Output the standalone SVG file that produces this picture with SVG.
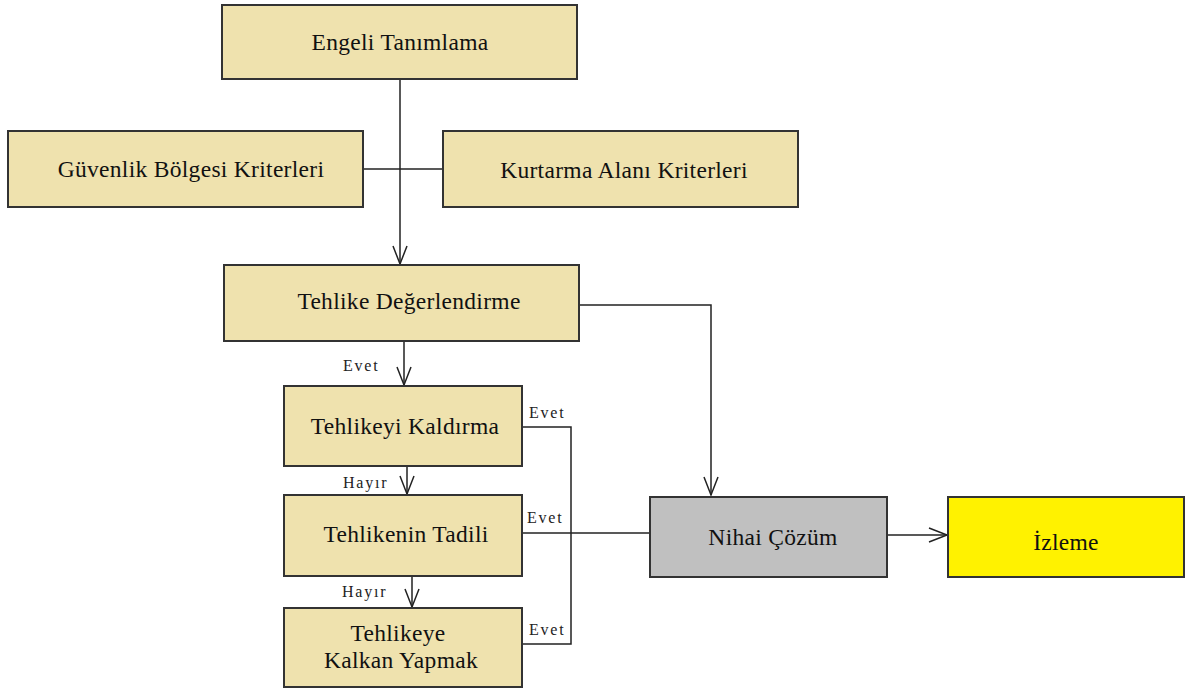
<svg xmlns="http://www.w3.org/2000/svg" width="1185" height="689" viewBox="0 0 1185 689">
<defs>
<style>
.box{fill:#efe2ae;stroke:#333;stroke-width:2}
.grey{fill:#c0c0c0;stroke:#333;stroke-width:2}
.yellow{fill:#fff200;stroke:#333;stroke-width:2}
.t{font-family:"Liberation Serif","Times New Roman",serif;font-size:23.5px;fill:#111;text-anchor:middle;letter-spacing:0.3px}
.lbl{font-family:"Liberation Serif","Times New Roman",serif;font-size:16px;fill:#222;letter-spacing:1.8px}
.c{fill:none;stroke:#222;stroke-width:1.5}
</style>
<marker id="arr" markerUnits="userSpaceOnUse" markerWidth="24" markerHeight="20" viewBox="-20 -10 22 20" refX="0" refY="0" orient="auto">
<path d="M-18,-7 L0,0 L-18,7" fill="none" stroke="#222" stroke-width="1.5"/>
</marker>
</defs>
<rect width="1185" height="689" fill="#fff"/>
<g id="connectors">
<path class="c" d="M400,79 V264" marker-end="url(#arr)"/>
<path class="c" d="M363,169 H443"/>
<path class="c" d="M579,305 H711 V495" marker-end="url(#arr)"/>
<path class="c" d="M404,341 V385" marker-end="url(#arr)"/>
<path class="c" d="M407,466 V494" marker-end="url(#arr)"/>
<path class="c" d="M412,576 V607" marker-end="url(#arr)"/>
<path class="c" d="M522,427 H571 V644 H522"/>
<path class="c" d="M522,533 H650"/>
<path class="c" d="M887,535 H947" marker-end="url(#arr)"/>
<text class="lbl" x="343" y="371">Evet</text>
<text class="lbl" x="529" y="418">Evet</text>
<text class="lbl" x="343" y="488">Hayır</text>
<text class="lbl" x="527" y="523">Evet</text>
<text class="lbl" x="342" y="597">Hayır</text>
<text class="lbl" x="529" y="635">Evet</text>
</g>
<g id="engeli"><rect class="box" x="222" y="5" width="355" height="74"/><text class="t" x="400" y="50">Engeli Tanımlama</text></g>
<g id="guvenlik"><rect class="box" x="8" y="131" width="355" height="76"/><text class="t" x="191" y="177">Güvenlik Bölgesi Kriterleri</text></g>
<g id="kurtarma"><rect class="box" x="443" y="131" width="355" height="76"/><text class="t" x="624" y="178">Kurtarma Alanı Kriterleri</text></g>
<g id="tehlike"><rect class="box" x="224" y="265" width="355" height="76"/><text class="t" x="409" y="309">Tehlike Değerlendirme</text></g>
<g id="kaldirma"><rect class="box" x="284" y="386" width="238" height="80"/><text class="t" x="405" y="434">Tehlikeyi Kaldırma</text></g>
<g id="tadil"><rect class="box" x="284" y="495" width="238" height="81"/><text class="t" x="406" y="542">Tehlikenin Tadili</text></g>
<g id="kalkan"><rect class="box" x="284" y="608" width="238" height="79"/><text class="t" x="398" y="641">Tehlikeye</text><text class="t" x="401" y="668">Kalkan Yapmak</text></g>
<g id="nihai"><rect class="grey" x="650" y="497" width="237" height="80"/><text class="t" x="773" y="545">Nihai Çözüm</text></g>
<g id="izleme"><rect class="yellow" x="948" y="497" width="236" height="80"/><text class="t" x="1066" y="550">İzleme</text></g>
</svg>
